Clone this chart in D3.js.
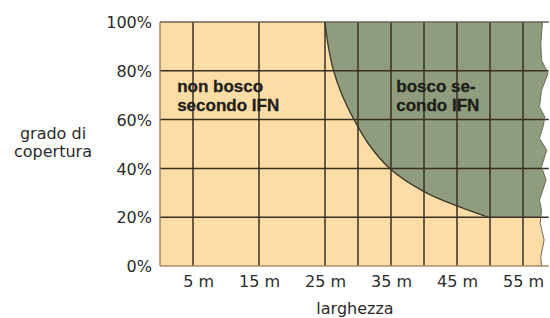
<!DOCTYPE html>
<html>
<head>
<meta charset="utf-8">
<script src="https://cdn.jsdelivr.net/npm/d3@7"></script>
<style>
  html, body { margin: 0; padding: 0; background: #fff; }
  svg { display: block; }
</style>
</head>
<body>
<svg id="chart" width="550" height="318"></svg>
<script>
// ---- data ----
const yTicks = [0, 20, 40, 60, 80, 100];            // grado di copertura (%)
const xGridLines = [5, 15, 25, 30, 35, 40, 45, 50, 55]; // larghezza (m)
const xTickLabels = [5, 15, 25, 35, 45, 55];
// boundary curve: minimum width (m) vs crown cover (%)
const boundaryWidth = [25, 25.5, 26.3, 27.6, 29.4, 31.6, 34.8, 40, 45, 49.7];
const boundaryCover = [100, 90, 80, 70, 60, 50, 40, 30.5, 24.6, 20];
// torn right edge of the diagram (m, %)
const edgeWidth = [57.95, 57.7, 57.8, 58.8, 57.8, 57.5, 58.3, 58.1, 57.5, 58.6, 57.8, 58.5, 57.5, 57.8, 57.7, 57.6, 58.2, 57.7, 57.8];
const edgeCover = [100, 91.3, 84.4, 79, 72, 65.3, 61.2, 57.8, 52.3, 47.5, 40.7, 35.2, 27, 23, 20, 17.6, 10.7, 3.8, 0];

const labelNonBosco = ["non bosco", "secondo IFN"];
const labelBosco = ["bosco se-", "condo IFN"];
const yTitle = ["grado di", "copertura"];
const xTitle = "larghezza";

// ---- scales ----
const x = d3.scaleLinear().domain([0, 58]).range([160, 160 + 58 * 6.6]);
const y = d3.scaleLinear().domain([0, 100]).range([266, 22]);

const svg = d3.select("#chart");
const ORANGE = "#fddca6";
const GREEN = "#8f9c7d";
const GRID = "#372f22";

const edge = edgeWidth.map((w, i) => [w, edgeCover[i]]);
const boundary = boundaryWidth.map((w, i) => [w, boundaryCover[i]]);

// orange background (whole field)
const lin = d3.line().x(d => x(d[0])).y(d => y(d[1]));
const orangePts = [[0, 0], [0, 100]].concat(edge);
svg.append("path").attr("d", lin(orangePts) + "Z").attr("fill", ORANGE);

// green forest area
const curveGen = d3.line().x(d => x(d[0])).y(d => y(d[1])).curve(d3.curveCatmullRom.alpha(0.5));
const edgeUp = edge.filter(d => d[1] >= 20).slice().reverse();
let gPath = curveGen(boundary);
edgeUp.forEach(d => { gPath += "L" + x(d[0]) + "," + y(d[1]); });
gPath += "Z";
svg.append("path").attr("d", gPath).attr("fill", GREEN);

// grid: verticals
svg.append("g").selectAll("line").data(xGridLines).join("line")
  .attr("x1", d => x(d)).attr("x2", d => x(d))
  .attr("y1", y(0)).attr("y2", y(100))
  .attr("stroke", GRID).attr("stroke-width", 1.5);
// grid: horizontals
svg.append("g").selectAll("line").data(yTicks).join("line")
  .attr("x1", x(0)).attr("x2", x(58.9))
  .attr("y1", d => y(d)).attr("y2", d => y(d))
  .attr("stroke", d => d === 0 ? "#a88c62" : (d === 100 ? "#6b6558" : GRID))
  .attr("stroke-width", 1.5);
// left border
svg.append("line").attr("x1", x(0)).attr("x2", x(0)).attr("y1", y(0)).attr("y2", y(100))
  .attr("stroke", "#9c7f55").attr("stroke-width", 1.4);

// boundary curve
svg.append("path").attr("d", curveGen(boundary)).attr("fill", "none")
  .attr("stroke", "#3a382c").attr("stroke-width", 1.3);

// torn edge line
svg.append("path").attr("d", lin(edge)).attr("fill", "none")
  .attr("stroke", "#6f6a5e").attr("stroke-width", 1);

// axes
const yAxis = d3.axisLeft(y).tickValues(yTicks).tickFormat(d => d + "%").tickSize(0).tickPadding(8);
const gy = svg.append("g").attr("transform", `translate(${x(0)},0)`).call(yAxis);
gy.select(".domain").remove();
gy.selectAll("text").attr("font-family", "DejaVu Sans").attr("font-size", 16).attr("fill", "#2b2b2b").attr("dy", "0.36em");

const xAxis = d3.axisBottom(x).tickValues(xTickLabels).tickFormat(d => d + " m").tickSize(0).tickPadding(10);
const gx = svg.append("g").attr("transform", `translate(0,${y(0)})`).call(xAxis);
gx.select(".domain").remove();
gx.selectAll("text").attr("font-family", "DejaVu Sans").attr("font-size", 16).attr("fill", "#2b2b2b")
  .attr("text-anchor", "end").attr("dx", 20.5);

// axis titles
svg.append("text").attr("x", 53).attr("text-anchor", "middle")
  .attr("font-family", "DejaVu Sans").attr("font-size", 16).attr("fill", "#2b2b2b")
  .selectAll("tspan").data(yTitle).join("tspan")
  .attr("x", 53).attr("y", (d, i) => 139 + i * 18).text(d => d);
svg.append("text").attr("x", 355).attr("y", 314).attr("text-anchor", "middle")
  .attr("font-family", "DejaVu Sans").attr("font-size", 16).attr("fill", "#2b2b2b").text(xTitle);

// region labels
function regionLabel(lines, wx, pc) {
  svg.append("text").attr("font-family", "Liberation Sans, Arial, sans-serif").attr("font-weight", "bold")
    .attr("font-size", 17).attr("fill", "#1e1e1a")
    .attr("stroke", "#1e1e1a").attr("stroke-width", 0.3)
    .selectAll("tspan").data(lines).join("tspan")
    .attr("x", x(wx)).attr("y", (d, i) => y(pc) + i * 18.5).text(d => d);
}
regionLabel(labelNonBosco, 2.6, 71.3);
regionLabel(labelBosco, 35.8, 71.3);
</script>
</body>
</html>
